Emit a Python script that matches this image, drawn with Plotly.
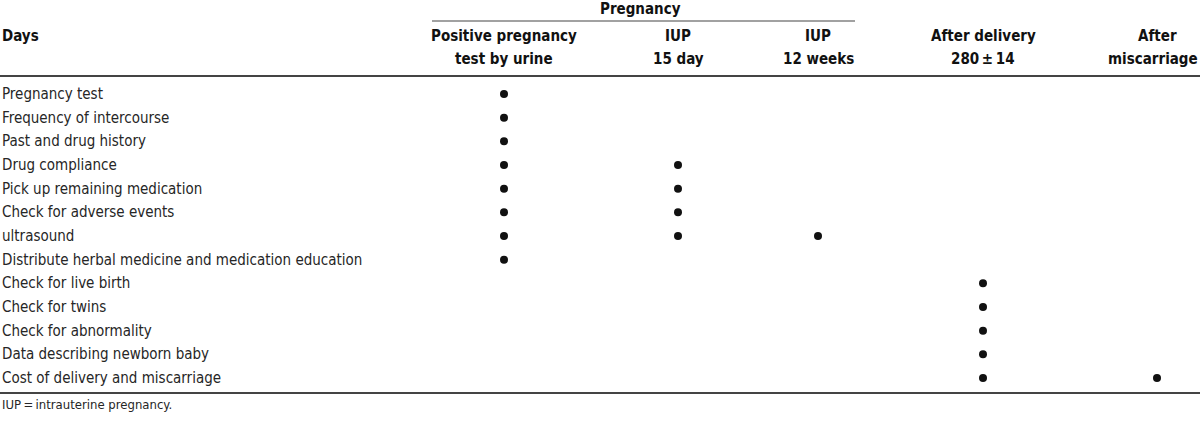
import plotly.graph_objects as go

# ---- data ----
rows = [
    "Pregnancy test",
    "Frequency of intercourse",
    "Past and drug history",
    "Drug compliance",
    "Pick up remaining medication",
    "Check for adverse events",
    "ultrasound",
    "Distribute herbal medicine and medication education",
    "Check for live birth",
    "Check for twins",
    "Check for abnormality",
    "Data describing newborn baby",
    "Cost of delivery and miscarriage",
]
col_line1 = ["Positive pregnancy", "IUP", "IUP", "After delivery", "After"]
col_line2 = ["test by urine", "15 day", "12 weeks", "280\u2009\u00b1\u200914", "miscarriage"]
group_label = "Pregnancy"
row_header = "Days"
footnote = "IUP\u2009=\u2009intrauterine pregnancy."
# 1 = assessed at that visit
schedule = [
    [1, 0, 0, 0, 0],
    [1, 0, 0, 0, 0],
    [1, 0, 0, 0, 0],
    [1, 1, 0, 0, 0],
    [1, 1, 0, 0, 0],
    [1, 1, 0, 0, 0],
    [1, 1, 1, 0, 0],
    [1, 0, 0, 0, 0],
    [0, 0, 0, 1, 0],
    [0, 0, 0, 1, 0],
    [0, 0, 0, 1, 0],
    [0, 0, 0, 1, 0],
    [0, 0, 0, 1, 1],
]

# ---- layout constants ----
W, H = 1200, 424
col_x = [504, 678, 818, 983, 1157]
ROW0, PITCH = 94, 23.67
FONT = "DejaVu Sans Condensed, Liberation Sans, Arial, sans-serif"
TXT = "#262626"


def py(px):
    return (px - ROW0) / PITCH


xs, ys = [], []
for r, marks in enumerate(schedule):
    for c, m in enumerate(marks):
        if m:
            xs.append(col_x[c])
            ys.append(r)

fig = go.Figure()
fig.add_trace(go.Scatter(
    x=xs, y=ys, mode="markers",
    marker=dict(size=8, color="#111111", line=dict(width=0)),
    hoverinfo="skip", showlegend=False, cliponaxis=False,
))

ann = []
for r, name in enumerate(rows):
    ann.append(dict(x=0, y=r, text=name, xanchor="left", yanchor="middle",
                    showarrow=False, font=dict(family=FONT, size=15, color=TXT)))

hfont = dict(family=FONT, size=15, color="#111111")
ann.append(dict(x=0, y=py(36), text="<b>%s</b>" % row_header, xanchor="left",
                yanchor="middle", showarrow=False, font=hfont))
ann.append(dict(x=640, y=py(9), text="<b>%s</b>" % group_label, xanchor="center",
                yanchor="middle", showarrow=False, font=hfont))
for c in range(len(col_x)):
    last = c == len(col_x) - 1
    ann.append(dict(x=col_x[c], y=py(36), text="<b>%s</b>" % col_line1[c],
                    xanchor="center", yanchor="middle", showarrow=False, font=hfont))
    ann.append(dict(x=W if last else col_x[c], y=py(59), text="<b>%s</b>" % col_line2[c],
                    xanchor="right" if last else "center", yanchor="middle",
                    showarrow=False, font=hfont))
ann.append(dict(x=0, y=py(404), text=footnote, xanchor="left", yanchor="middle",
                showarrow=False, font=dict(family=FONT, size=13, color=TXT)))

shapes = [
    dict(type="line", x0=432, x1=855, y0=py(21), y1=py(21),
         line=dict(color="#444444", width=1.2)),
    dict(type="line", x0=0, x1=W, y0=py(76), y1=py(76),
         line=dict(color="#444444", width=2)),
    dict(type="line", x0=0, x1=W, y0=py(393), y1=py(393),
         line=dict(color="#444444", width=2)),
]

fig.update_layout(
    width=W, height=H,
    margin=dict(l=0, r=0, t=0, b=0),
    paper_bgcolor="white", plot_bgcolor="white",
    xaxis=dict(range=[0, W], visible=False, fixedrange=True),
    yaxis=dict(range=[py(H), py(0)], visible=False, fixedrange=True),
    annotations=ann, shapes=shapes, showlegend=False,
)
fig.write_html(
    "out.html",
    config={"displayModeBar": False, "staticPlot": True},
    post_script="document.body.style.margin='0';document.body.style.overflow='hidden';",
)
